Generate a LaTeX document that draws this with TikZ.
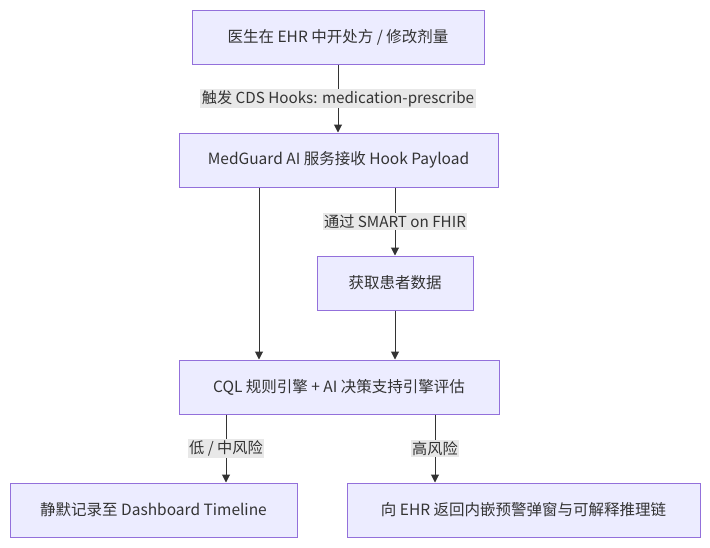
\documentclass[tikz,border=0pt]{standalone}
\usepackage{fontspec}
\setmainfont{Noto Sans CJK SC}
\usetikzlibrary{arrows.meta}
\definecolor{nodefill}{HTML}{ECECFF}
\definecolor{nodeline}{HTML}{9370DB}
\definecolor{txt}{HTML}{333333}
\definecolor{lblbg}{HTML}{E8E8E8}
\begin{document}
\begin{tikzpicture}[x=1pt,y=-1pt,
  box/.style={draw=nodeline, fill=nodefill, line width=1pt, minimum height=54pt, inner sep=0pt, text=txt, font=\fontsize{15.5}{17}\selectfont},
  arr/.style={draw=txt, line width=1pt, -{Triangle[length=8pt,width=8pt]}},
  lbl/.style={fill=lblbg, text=txt, inner sep=1.5pt, font=\fontsize{15.2}{17}\selectfont}]
\useasboundingbox (0,0) rectangle (710,547);
\node[box, minimum width=292pt] (A) at (338,37) {医生在 EHR 中开处方 / 修改剂量};
\node[box, minimum width=319pt] (B) at (338.5,160) {MedGuard AI 服务接收 Hook Payload};
\node[box, minimum width=156pt] (C) at (395,283) {获取患者数据};
\node[box, minimum width=320pt] (D) at (339,387) {CQL 规则引擎 + AI 决策支持引擎评估};
\node[box, minimum width=287pt] (E) at (153.5,510) {静默记录至 Dashboard Timeline};
\node[box, minimum width=353pt] (F) at (523.5,510) {向 EHR 返回内嵌预警弹窗与可解释推理链};
\coordinate (xA) at (338,0);
\coordinate (xL) at (259,0);
\coordinate (xC) at (395,0);
\coordinate (xE) at (226,0);
\coordinate (xF) at (435,0);
\draw[arr] (A.south -| xA) -- node[lbl] {触发 CDS Hooks: medication-prescribe} (B.north -| xA);
\draw[arr] (B.south -| xL) -- (D.north -| xL);
\draw[arr] (B.south -| xC) -- node[lbl] {通过 SMART on FHIR} (C.north -| xC);
\draw[arr] (C.south -| xC) -- (D.north -| xC);
\draw[arr] (D.south -| xE) -- node[lbl] {低 / 中风险} (E.north -| xE);
\draw[arr] (D.south -| xF) -- node[lbl] {高风险} (F.north -| xF);
\end{tikzpicture}
\end{document}
